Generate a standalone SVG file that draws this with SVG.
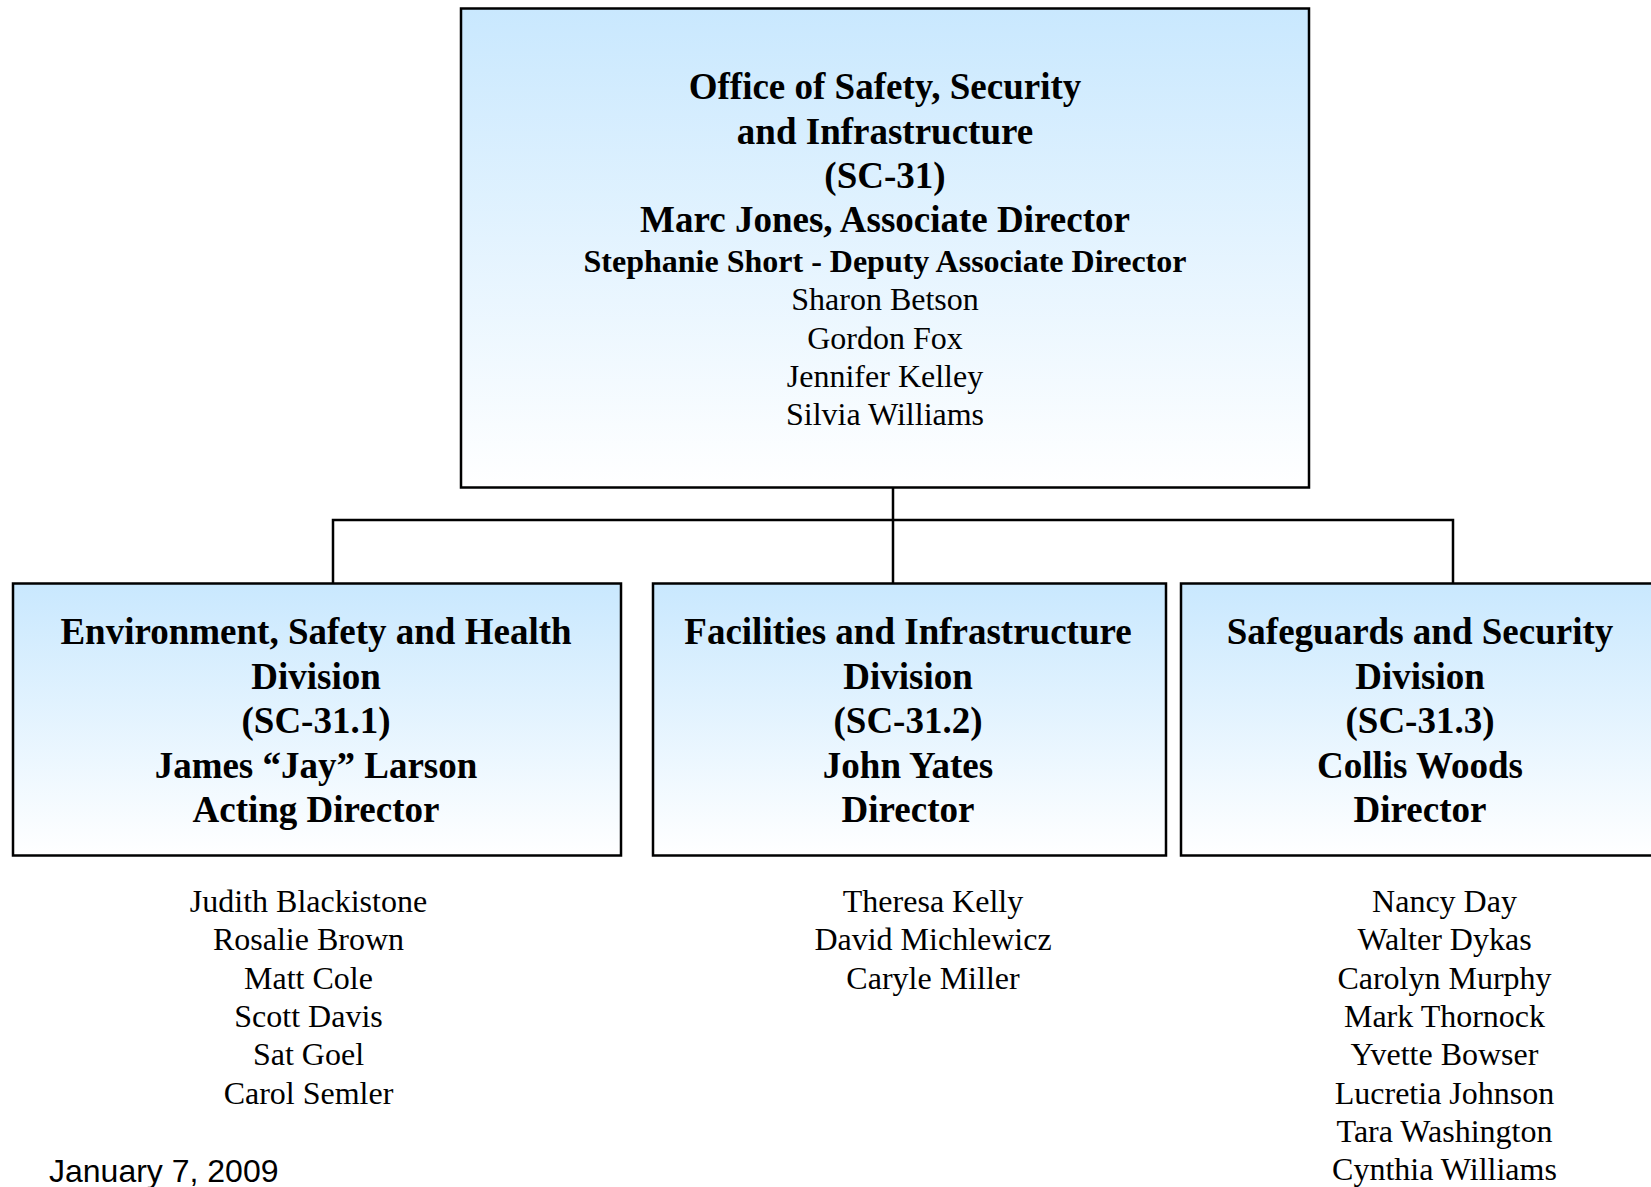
<svg xmlns="http://www.w3.org/2000/svg" width="1651" height="1187" viewBox="0 0 1651 1187">
<style>
.box{stroke:#000;stroke-width:2.5;fill:url(#g)}
.t{font-family:"Liberation Serif","Times New Roman",serif;text-anchor:middle;fill:#000}
.b37{font-size:37px;font-weight:bold}
.b32{font-size:32px;font-weight:bold}
.r32{font-size:32px}
.date{font-family:"Liberation Sans",Arial,sans-serif;font-size:32px;fill:#000}
.conn{stroke:#000;stroke-width:2.5;fill:none}
</style>
<defs>
<linearGradient id="g" x1="0" y1="0" x2="0" y2="1">
<stop offset="0" stop-color="#C9E8FE"/>
<stop offset="1" stop-color="#FFFFFF"/>
</linearGradient>
</defs>
<rect width="1651" height="1187" fill="#fff"/>
<g id="connectors">
<path class="conn" d="M893 488 V520 M333 583 V520 H1453 V583 M893 520 V583"/>
</g>
<g id="node-sc31">
<rect class="box" x="461" y="8.5" width="848" height="479"/>
<text class="t b37" x="885" y="99">Office of Safety, Security</text>
<text class="t b37" x="885" y="143.5">and Infrastructure</text>
<text class="t b37" x="885" y="188">(SC-31)</text>
<text class="t b37" x="885" y="232">Marc Jones, Associate Director</text>
<text class="t b32" x="885" y="272">Stephanie Short - Deputy Associate Director</text>
<text class="t r32" x="885" y="310">Sharon Betson</text>
<text class="t r32" x="885" y="348.5">Gordon Fox</text>
<text class="t r32" x="885" y="387">Jennifer Kelley</text>
<text class="t r32" x="885" y="425">Silvia Williams</text>
</g>
<g id="node-sc31-1">
<rect class="box" x="13" y="583.5" width="608" height="272"/>
<text class="t b37" x="316" y="644">Environment, Safety and Health</text>
<text class="t b37" x="316" y="688.5">Division</text>
<text class="t b37" x="316" y="733">(SC-31.1)</text>
<text class="t b37" x="316" y="777.5">James “Jay” Larson</text>
<text class="t b37" x="316" y="822">Acting Director</text>
</g>
<g id="node-sc31-2">
<rect class="box" x="653" y="583.5" width="513" height="272"/>
<text class="t b37" x="908" y="644">Facilities and Infrastructure</text>
<text class="t b37" x="908" y="688.5">Division</text>
<text class="t b37" x="908" y="733">(SC-31.2)</text>
<text class="t b37" x="908" y="777.5">John Yates</text>
<text class="t b37" x="908" y="822">Director</text>
</g>
<g id="node-sc31-3">
<rect class="box" x="1181" y="583.5" width="480" height="272"/>
<text class="t b37" x="1420" y="644">Safeguards and Security</text>
<text class="t b37" x="1420" y="688.5">Division</text>
<text class="t b37" x="1420" y="733">(SC-31.3)</text>
<text class="t b37" x="1420" y="777.5">Collis Woods</text>
<text class="t b37" x="1420" y="822">Director</text>
</g>
<g id="staff-sc31-1">
<text class="t r32" x="308.5" y="912">Judith Blackistone</text>
<text class="t r32" x="308.5" y="950">Rosalie Brown</text>
<text class="t r32" x="308.5" y="988.5">Matt Cole</text>
<text class="t r32" x="308.5" y="1027">Scott Davis</text>
<text class="t r32" x="308.5" y="1065">Sat Goel</text>
<text class="t r32" x="308.5" y="1103.5">Carol Semler</text>
</g>
<g id="staff-sc31-2">
<text class="t r32" x="933" y="912">Theresa Kelly</text>
<text class="t r32" x="933" y="950">David Michlewicz</text>
<text class="t r32" x="933" y="988.5">Caryle Miller</text>
</g>
<g id="staff-sc31-3">
<text class="t r32" x="1444.5" y="912">Nancy Day</text>
<text class="t r32" x="1444.5" y="950">Walter Dykas</text>
<text class="t r32" x="1444.5" y="988.5">Carolyn Murphy</text>
<text class="t r32" x="1444.5" y="1027">Mark Thornock</text>
<text class="t r32" x="1444.5" y="1065">Yvette Bowser</text>
<text class="t r32" x="1444.5" y="1103.5">Lucretia Johnson</text>
<text class="t r32" x="1444.5" y="1142">Tara Washington</text>
<text class="t r32" x="1444.5" y="1180">Cynthia Williams</text>
</g>
<text class="date" x="49" y="1182">January 7, 2009</text>
</svg>
